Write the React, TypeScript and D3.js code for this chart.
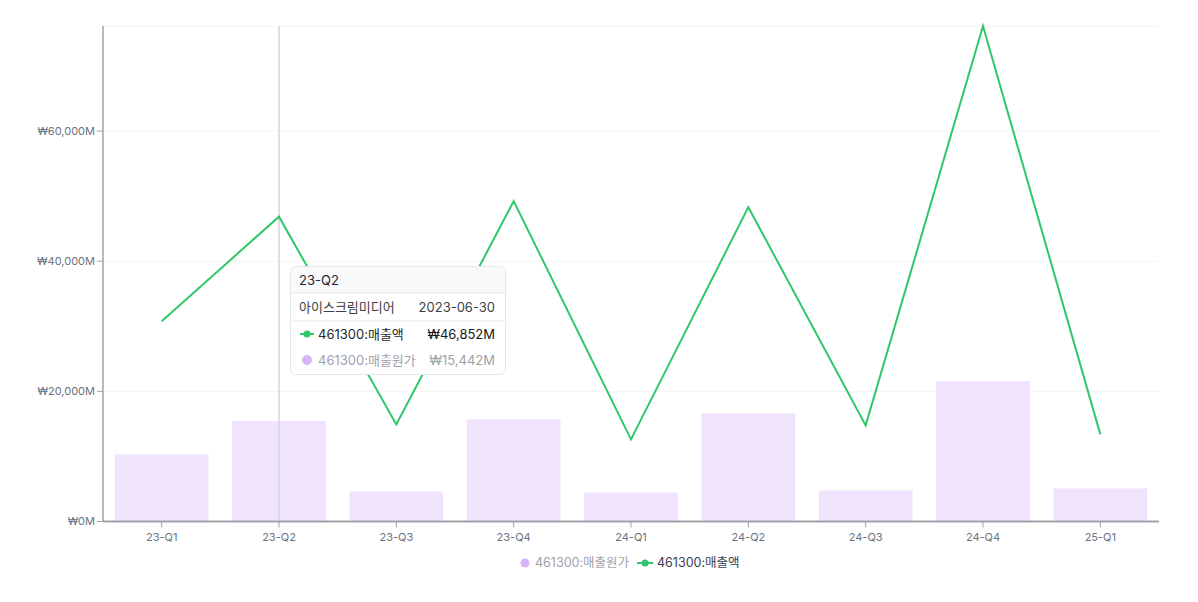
import React from 'react';
import * as d3 from 'd3';

const quarters = ['23-Q1', '23-Q2', '23-Q3', '23-Q4', '24-Q1', '24-Q2', '24-Q3', '24-Q4', '25-Q1'];
const revenue = [30770, 46852, 14920, 49230, 12620, 48310, 14770, 76150, 13390];
const costOfSales = [10310, 15442, 4620, 15690, 4460, 16620, 4770, 21540, 5080];
const yTicks = [0, 20000, 40000, 60000];
const revenueName = '461300:매출액';
const costName = '461300:매출원가';
const companyName = '아이스크림미디어';
const activeDate = '2023-06-30';
const activeIndex = 1;

const W = 1198;
const H = 602;
const margin = { top: 26, right: 39, bottom: 81, left: 103 };
const FONT = 'Inter, "Noto Sans CJK KR", sans-serif';
const GREEN = '#2fc76a';
const BAR = '#efe3fd';
const BAR_DOT = '#d7b4fb';

const fmt = (v: number) => `₩${d3.format(',')(Math.round(v))}M`;

export default function App() {
  const x = d3.scaleBand<string>()
    .domain(quarters)
    .range([margin.left, W - margin.right])
    .paddingInner(0.2)
    .paddingOuter(0.1);
  const y = d3.scaleLinear()
    .domain([0, d3.max(revenue) as number])
    .range([H - margin.bottom + 0.5, margin.top]);

  const cx = (q: string) => (x(q) as number) + x.bandwidth() / 2;
  const line = d3.line<number>()
    .x((_, i) => cx(quarters[i]))
    .y(d => y(d));

  const y0 = y(0);
  const activeX = cx(quarters[activeIndex]);

  // tooltip box
  const tx = 290, ty = 266, tw = 215, th = 108;

  return (
    <svg width={W} height={H} style={{ position: 'absolute', left: 0, top: 0, display: 'block', fontFamily: FONT }}>
      <rect width={W} height={H} fill="#fff" />
      {/* grid */}
      {[...yTicks, y.domain()[1]].map(t => (
        <line key={t} x1={margin.left} x2={W - margin.right} y1={y(t)} y2={y(t)} stroke="#f4f4f5" />
      ))}
      {/* bars */}
      {costOfSales.map((v, i) => (
        <rect key={i} x={x(quarters[i])} y={y(v)} width={x.bandwidth()} height={y0 - y(v)} fill={BAR} />
      ))}
      {/* crosshair */}
      <line x1={activeX} x2={activeX} y1={margin.top} y2={y0} stroke="#d4d4d8" strokeWidth={1.5} />
      {/* line */}
      <path d={line(revenue) as string} fill="none" stroke={GREEN} strokeWidth={2} />
      {/* y axis */}
      <line x1={margin.left} x2={margin.left} y1={margin.top} y2={y0} stroke="#a1a1aa" strokeWidth={1.5} />
      {yTicks.map(t => (
        <g key={t} transform={`translate(0,${y(t)})`}>
          <line x1={margin.left - 6} x2={margin.left} stroke="#a1a1aa" />
          <text x={margin.left - 8} dy="0.32em" textAnchor="end" fontSize={11} fill="#6b7280">{fmt(t)}</text>
        </g>
      ))}
      {/* x axis */}
      <line x1={margin.left} x2={W - margin.right} y1={y0} y2={y0} stroke="#a1a1aa" strokeWidth={2} />
      {quarters.map(q => (
        <g key={q} transform={`translate(${cx(q)},${y0})`}>
          <line y1={0} y2={6} stroke="#a1a1aa" />
          <text y={19} textAnchor="middle" fontSize={11} fill="#6b7280">{q}</text>
        </g>
      ))}
      {/* legend */}
      <g transform="translate(525,563)">
        <circle cx={0} cy={0} r={4.5} fill={BAR_DOT} />
        <text x={10} dy="0.35em" fontSize={12.5} fill="#a1a1aa">{costName}</text>
        <line x1={112} x2={128} y1={0} y2={0} stroke={GREEN} strokeWidth={2} />
        <circle cx={120} cy={0} r={3.5} fill={GREEN} />
        <text x={132} dy="0.35em" fontSize={12.5} fill="#374151">{revenueName}</text>
      </g>
      {/* tooltip */}
      <g transform={`translate(${tx},${ty})`}>
        <rect x={0.5} y={0.5} width={tw} height={th} rx={5} fill="#fff" stroke="#e5e7eb" />
        <path d={`M1,27 V6 Q1,1 6,1 H${tw - 5} Q${tw},1 ${tw},6 V27 Z`} fill="#f8f9fb" />
        <line x1={1} x2={tw} y1={27} y2={27} stroke="#e5e7eb" />
        <line x1={1} x2={tw} y1={55} y2={55} stroke="#e5e7eb" />
        <text x={9} y={14} dy="0.35em" fontSize={13} fill="#27272a">{quarters[activeIndex]}</text>
        <text x={9} y={41} dy="0.35em" fontSize={13} fill="#3f3f46">{companyName}</text>
        <text x={tw - 10} y={41} dy="0.35em" fontSize={13} fill="#3f3f46" textAnchor="end">{activeDate}</text>
        <line x1={10} x2={24} y1={68} y2={68} stroke={GREEN} strokeWidth={2} />
        <circle cx={17} cy={68} r={3.5} fill={GREEN} />
        <text x={28} y={68} dy="0.35em" fontSize={13} fill="#27272a">{revenueName}</text>
        <text x={tw - 10} y={68} dy="0.35em" fontSize={13} fill="#18181b" textAnchor="end">{fmt(revenue[activeIndex])}</text>
        <circle cx={17} cy={94} r={5} fill={BAR_DOT} />
        <text x={28} y={94} dy="0.35em" fontSize={13} fill="#a1a1aa">{costName}</text>
        <text x={tw - 10} y={94} dy="0.35em" fontSize={13} fill="#a1a1aa" textAnchor="end">{fmt(costOfSales[activeIndex])}</text>
      </g>
    </svg>
  );
}
